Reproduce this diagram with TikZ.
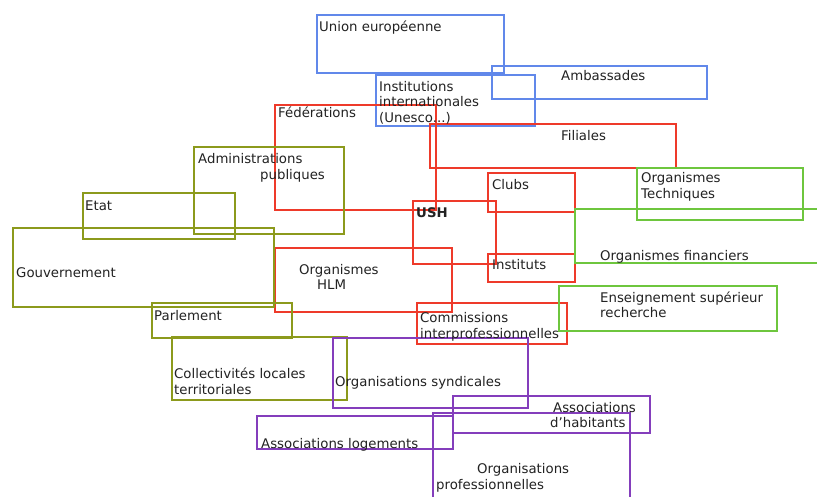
\documentclass[tikz,border=0pt]{standalone}
\usepackage{fontspec}
\setmainfont{DejaVu Sans}
\definecolor{cblue}{HTML}{6188EA}
\definecolor{cred}{HTML}{EE3A2A}
\definecolor{colive}{HTML}{8C9A1C}
\definecolor{cgreen}{HTML}{6EC63E}
\definecolor{cpurple}{HTML}{843EBC}
\definecolor{ctext}{HTML}{222222}
\tikzset{
  bx/.style={line width=1.4pt},
  lbl/.style={anchor=base west, inner sep=0pt, text=ctext, font=\fontsize{13.3}{16}\selectfont},
}
\begin{document}
\begin{tikzpicture}[x=1pt,y=-1pt]
\useasboundingbox[fill=white] (0,0) rectangle (817,497);
% blue
\draw[bx,cblue] (317,15) rectangle (504,73);
\draw[bx,cblue] (492,66) rectangle (707,99);
\draw[bx,cblue] (376,75) rectangle (535,126);
% red
\draw[bx,cred] (275,105) rectangle (436,210);
\draw[bx,cred] (430,124) rectangle (676,168);
\draw[bx,cred] (413,201) rectangle (496,264);
\draw[bx,cred] (488,173) rectangle (575,212);
\draw[bx,cred] (488,254) rectangle (575,282);
\draw[bx,cred] (275,248) rectangle (452,312);
\draw[bx,cred] (417,303) rectangle (567,344);
% green
\draw[bx,cgreen] (637,168) rectangle (803,220);
\draw[bx,cgreen] (830,209) -- (575,209) -- (575,263) -- (830,263);
\draw[bx,cgreen] (559,286) rectangle (777,331);
% olive
\draw[bx,colive] (194,147) rectangle (344,234);
\draw[bx,colive] (83,193) rectangle (235,239);
\draw[bx,colive] (13,228) rectangle (274,307);
\draw[bx,colive] (152,303) rectangle (292,338);
\draw[bx,colive] (172,337) rectangle (347,400);
% purple
\draw[bx,cpurple] (333,338) rectangle (528,408);
\draw[bx,cpurple] (257,416) rectangle (453,449);
\draw[bx,cpurple] (453,396) rectangle (650,433);
\draw[bx,cpurple] (433,510) -- (433,413) -- (630,413) -- (630,510);
% labels
\node[lbl] (ue) at (319,32) {Union européenne};
\node[lbl] (amb) at (561,81) {Ambassades};
\node[lbl] (ii1) at (379,92) {Institutions};
\node[lbl] (ii2) at (379,107) {internationales};
\node[lbl] (ii3) at (379,123) {(Unesco...)};
\node[lbl] (fed) at (278,118) {Fédérations};
\node[lbl] (fil) at (561,141) {Filiales};
\node[lbl] (adm1) at (198,164) {Administrations};
\node[lbl] (adm2) at (260,180) {publiques};
\node[lbl] (etat) at (85,211) {Etat};
\node[lbl] (gouv) at (16,278) {Gouvernement};
\node[lbl] (hlm1) at (299,275) {Organismes};
\node[lbl] (hlm2) at (317,290) {HLM};
\node[lbl] (parl) at (154,320) {Parlement};
\node[lbl,font=\fontsize{13.3}{16}\selectfont\bfseries] (ush) at (416,218) {USH};
\node[lbl] (clubs) at (492,190) {Clubs};
\node[lbl] (inst) at (492,270) {Instituts};
\node[lbl] (com1) at (420,322) {Commissions};
\node[lbl] (com2) at (420,338) {interprofessionnelles};
\node[lbl] (ot1) at (641,183) {Organismes};
\node[lbl] (ot2) at (641,199) {Techniques};
\node[lbl] (of) at (600,261) {Organismes financiers};
\node[lbl] (es1) at (600,302) {Enseignement supérieur};
\node[lbl] (es2) at (600,317) {recherche};
\node[lbl] (col1) at (174,378) {Collectivités locales};
\node[lbl] (col2) at (174,394) {territoriales};
\node[lbl] (syn) at (335,386) {Organisations syndicales};
\node[lbl] (al) at (261,448) {Associations logements};
\node[lbl] (ah1) at (553,412) {Associations};
\node[lbl] (ah2) at (550,427) {d'habitants};
\node[lbl] (op1) at (477,473) {Organisations};
\node[lbl] (op2) at (436,489) {professionnelles};
\end{tikzpicture}
\end{document}
